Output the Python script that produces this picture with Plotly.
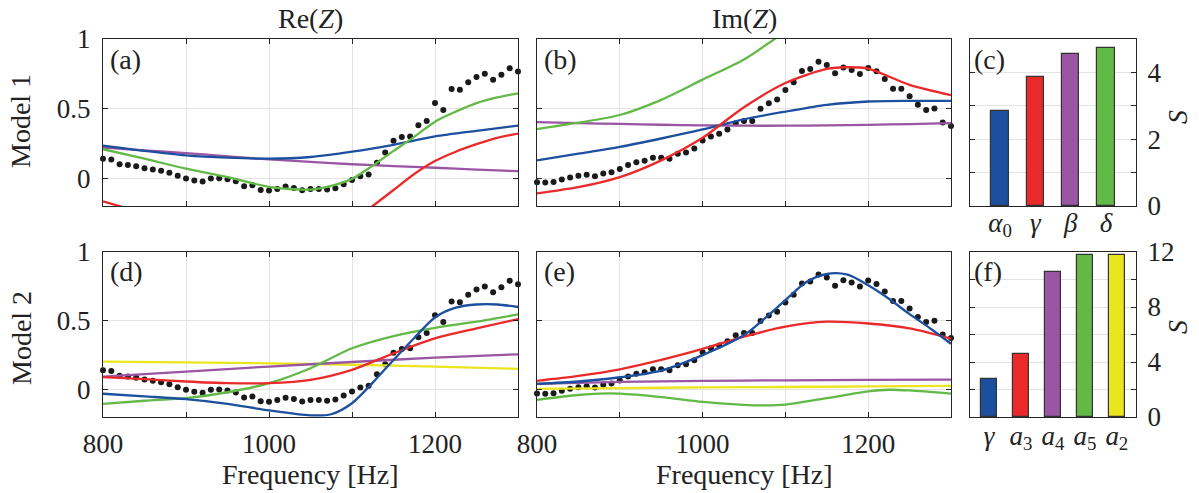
import plotly.graph_objects as go

# ---------------- data ----------------
freq_meas = [800 + 10 * i for i in range(51)]
re_meas = [0.14, 0.135, 0.10, 0.094, 0.085, 0.072, 0.063, 0.053, 0.039, 0.017,
           -0.002, -0.017, -0.024, -0.002, 0.0, -0.007, -0.022, -0.058, -0.051, -0.085,
           -0.089, -0.077, -0.06, -0.07, -0.087, -0.077, -0.077, -0.082, -0.072, -0.043,
           -0.014, 0.014, 0.027, 0.111, 0.184, 0.268, 0.295, 0.30, 0.38, 0.41,
           0.54, 0.49, 0.64, 0.635, 0.69, 0.727, 0.75, 0.708, 0.744, 0.79, 0.766]
im_meas = [-0.029, -0.031, -0.027, -0.010, 0.005, 0.017, 0.024, 0.014, 0.034, 0.043,
           0.065, 0.094, 0.114, 0.126, 0.147, 0.147, 0.14, 0.176, 0.184, 0.213,
           0.27, 0.30, 0.32, 0.35, 0.394, 0.41, 0.41, 0.498, 0.539, 0.565,
           0.633, 0.69, 0.77, 0.785, 0.836, 0.814, 0.754, 0.795, 0.778, 0.749,
           0.792, 0.768, 0.713, 0.643, 0.643, 0.589, 0.527, 0.49, 0.50, 0.40, 0.375]

f11 = [800, 850, 900, 950, 1000, 1050, 1100, 1150, 1200, 1250, 1300]
f6 = [800, 900, 1000, 1100, 1200, 1300]

# Model 1, Re(Z)
a_blue = [0.234, 0.196, 0.164, 0.147, 0.140, 0.152, 0.19, 0.24, 0.30, 0.34, 0.377]
a_purple = [0.22, 0.20, 0.18, 0.157, 0.135, 0.117, 0.10, 0.087, 0.075, 0.062, 0.05]
f_a_green = [800, 850, 900, 950, 1000, 1050, 1075, 1100, 1125, 1150, 1175, 1200, 1225, 1250, 1275, 1300]
a_green = [0.208, 0.14, 0.068, 0.007, -0.062, -0.082, -0.055, -0.005, 0.09, 0.196, 0.297, 0.406, 0.478, 0.539, 0.58, 0.61]
f_a_red = [800, 825, 850, 1100, 1125, 1150, 1175, 1200, 1225, 1250, 1275, 1300]
a_red = [-0.167, -0.21, None, -0.315, -0.2, -0.085, 0.03, 0.123, 0.19, 0.244, 0.29, 0.32]

# Model 1, Im(Z)
f_b_green = [800, 850, 900, 950, 1000, 1050, 1087, 1100]
b_green = [0.353, 0.399, 0.454, 0.563, 0.708, 0.853, 1.0, 1.05]
f_b_red = [800, 850, 900, 950, 1000, 1025, 1050, 1100, 1150, 1175, 1200, 1250, 1300]
b_red = [-0.109, -0.065, 0.007, 0.128, 0.29, 0.40, 0.51, 0.684, 0.785, 0.797, 0.787, 0.67, 0.596]
b_blue = [0.128, 0.176, 0.225, 0.285, 0.35, 0.423, 0.478, 0.527, 0.551, 0.556, 0.556]
b_purple = [0.403, 0.395, 0.39, 0.384, 0.38, 0.377, 0.377, 0.379, 0.383, 0.389, 0.395]

# Model 2, Re(Z)
d_yellow = [0.203, 0.197, 0.19, 0.18, 0.167, 0.15]
d_purple = [0.094, 0.13, 0.167, 0.2, 0.232, 0.256]
d_red = [0.09, 0.075, 0.058, 0.046, 0.046, 0.07, 0.143, 0.263, 0.372, 0.444, 0.512]
d_green = [-0.104, -0.082, -0.063, -0.02, 0.046, 0.155, 0.30, 0.389, 0.449, 0.493, 0.546]
f_d_blue = [800, 850, 900, 950, 1000, 1050, 1075, 1100, 1125, 1150, 1175, 1200, 1225, 1250, 1275, 1300]
d_blue = [-0.031, -0.05, -0.07, -0.104, -0.152, -0.188, -0.18, -0.10, 0.05, 0.215, 0.375, 0.524, 0.595, 0.618, 0.618, 0.60]

# Model 2, Im(Z)
f_e_blue = [800, 850, 900, 950, 1000, 1050, 1075, 1100, 1125, 1150, 1175, 1200, 1225, 1250, 1275, 1300]
e_blue = [0.041, 0.058, 0.089, 0.138, 0.25, 0.396, 0.517, 0.65, 0.78, 0.84, 0.835, 0.758, 0.66, 0.548, 0.444, 0.333]
e_red = [0.063, 0.099, 0.147, 0.215, 0.295, 0.384, 0.457, 0.493, 0.48, 0.444, 0.37]
e_purple = [0.041, 0.055, 0.062, 0.067, 0.07, 0.072]
e_yellow = [0.005, 0.01, 0.015, 0.018, 0.022, 0.027]
f_e_green = [800, 850, 875, 900, 950, 1000, 1050, 1075, 1100, 1150, 1200, 1225, 1250, 1300]
e_green = [-0.075, -0.04, -0.03, -0.03, -0.055, -0.09, -0.112, -0.116, -0.11, -0.063, -0.014, -0.002, -0.007, -0.03]

# Sensitivities
c_labels = ["<i>α</i><sub>0</sub>", "<i>γ</i>", "<i>β</i>", "<i>δ</i>"]
c_values = [2.84, 3.86, 4.56, 4.73]
f_labels = ["<i>γ</i>", "<i>a</i><sub>3</sub>", "<i>a</i><sub>4</sub>", "<i>a</i><sub>5</sub>", "<i>a</i><sub>2</sub>"]
f_values = [2.78, 4.59, 10.58, 11.81, 11.81]

# ---------------- style ----------------
BLUE = "#1d4f9f"
RED = "#ea2a2a"
PURPLE = "#9a55a3"
GREEN = "#62b946"
YELLOW = "#ebe51e"
FONT = "Liberation Serif"
FS = 27      # tick labels
FL = 28      # titles / labels
W, H = 1199, 493
LW = 2.3
TXT = "#222222"

def dx(x0, x1):
    return [x0 / W, x1 / W]

def dy(top, bottom):
    return [1 - bottom / H, 1 - top / H]

fig = go.Figure()

def line(x, y, color, ax):
    fig.add_trace(go.Scatter(x=x, y=y, mode="lines", line=dict(color=color, width=LW, shape="spline", smoothing=0.8),
                             xaxis="x" + ax, yaxis="y" + ax, showlegend=False, hoverinfo="skip", connectgaps=False))

def dots(x, y, ax):
    fig.add_trace(go.Scatter(x=x, y=y, mode="markers", marker=dict(color="#1a1a1a", size=6),
                             xaxis="x" + ax, yaxis="y" + ax, showlegend=False, cliponaxis=False))

# (a)
dots(freq_meas, re_meas, "")
line(f11, a_purple, PURPLE, "")
line(f11, a_blue, BLUE, "")
line(f_a_green, a_green, GREEN, "")
line(f_a_red, a_red, RED, "")
# (b)
dots(freq_meas, im_meas, "2")
line(f11, b_purple, PURPLE, "2")
line(f11, b_blue, BLUE, "2")
line(f_b_green, b_green, GREEN, "2")
line(f_b_red, b_red, RED, "2")
# (d)
dots(freq_meas, re_meas, "4")
line(f6, d_yellow, YELLOW, "4")
line(f6, d_purple, PURPLE, "4")
line(f11, d_green, GREEN, "4")
line(f11, d_red, RED, "4")
line(f_d_blue, d_blue, BLUE, "4")
# (e)
dots(freq_meas, im_meas, "5")
line(f6, e_yellow, YELLOW, "5")
line(f6, e_purple, PURPLE, "5")
line(f_e_green, e_green, GREEN, "5")
line(f11, e_red, RED, "5")
line(f_e_blue, e_blue, BLUE, "5")

# bars
fig.add_trace(go.Bar(x=list(range(len(c_values))), y=c_values, width=0.5,
                     marker=dict(color=[BLUE, RED, PURPLE, GREEN], line=dict(color="#333333", width=1.2)),
                     xaxis="x3", yaxis="y3", showlegend=False))
fig.add_trace(go.Bar(x=list(range(len(f_values))), y=f_values, width=0.49,
                     marker=dict(color=[BLUE, RED, PURPLE, GREEN, YELLOW], line=dict(color="#333333", width=1.2)),
                     xaxis="x6", yaxis="y6", showlegend=False))

AXC = "#262626"
GRID = "#e3e3e3"
common = dict(showline=True, linecolor=AXC, linewidth=1.2, mirror="ticks", ticks="inside", ticklen=5,
              tickcolor=AXC, gridcolor=GRID, gridwidth=1, zeroline=False, automargin=False,
              tickfont=dict(family=FONT, size=FS, color=TXT))

fx_vals = [800, 900, 1000, 1100, 1200, 1300]
fx_text_bottom = ["800", "", "1000", "", "1200", ""]
fx_text_top = [""] * 6

def fx_axis(dom, anchor, bottom):
    d = dict(common)
    d.update(domain=dom, anchor=anchor, range=[800, 1300], tickvals=fx_vals,
             ticktext=fx_text_bottom if bottom else fx_text_top, ticklabelstandoff=2)
    return d

def fy_axis(dom, anchor, labels):
    d = dict(common)
    d.update(domain=dom, anchor=anchor, range=[-0.2, 1], tickvals=[0, 0.5, 1],
             ticktext=["0", "0.5", "1"] if labels else ["", "", ""], ticklabelstandoff=6)
    return d

XA = dx(103, 518)
XB = dx(537, 951)
XC = dx(970, 1136)
Y1 = dy(39, 206)
Y2 = dy(252, 417)

bar_x_c = dict(common)
bar_x_c.update(domain=XC, anchor="y3", range=[-0.85, 3.85], tickvals=list(range(4)), ticktext=c_labels,
               showgrid=False, ticks="", ticklabelstandoff=-8)
bar_y_c = dict(common)
bar_y_c.update(domain=Y1, anchor="x3", side="right", range=[0, 5], tickvals=[0, 1, 2, 3, 4, 5],
               ticktext=["0", "", "2", "", "4", ""], ticklabelstandoff=5)
bar_x_f = dict(common)
bar_x_f.update(domain=XC, anchor="y6", range=[-0.6, 4.6], tickvals=list(range(5)), ticktext=f_labels,
               showgrid=False, ticks="", ticklabelstandoff=-6)
bar_y_f = dict(common)
bar_y_f.update(domain=Y2, anchor="x6", side="right", range=[0, 12], tickvals=[0, 2, 4, 6, 8, 10, 12],
               ticktext=["0", "", "4", "", "8", "", "12"], ticklabelstandoff=5)

fig.update_layout(
    width=W, height=H, margin=dict(l=0, r=0, t=0, b=0, pad=0, autoexpand=False),
    paper_bgcolor="white", plot_bgcolor="white",
    font=dict(family=FONT, size=FS, color=TXT),
    xaxis=fx_axis(XA, "y", False), yaxis=fy_axis(Y1, "x", True),
    xaxis2=fx_axis(XB, "y2", False), yaxis2=fy_axis(Y1, "x2", False),
    xaxis3=bar_x_c, yaxis3=bar_y_c,
    xaxis4=fx_axis(XA, "y4", True), yaxis4=fy_axis(Y2, "x4", True),
    xaxis5=fx_axis(XB, "y5", True), yaxis5=fy_axis(Y2, "x5", False),
    xaxis6=bar_x_f, yaxis6=bar_y_f,
    bargap=0,
)

ann = []
def txt(text, px, py, angle=0, size=FL):
    ann.append(dict(text=text, x=px / W, y=1 - py / H, xref="paper", yref="paper", showarrow=False,
                    textangle=angle, font=dict(family=FONT, size=size, color=TXT),
                    xanchor="center", yanchor="middle"))

txt("Re(<i>Z</i>)", 310, 19)
txt("Im(<i>Z</i>)", 744, 19)
txt("Model 1", 21, 121, -90)
txt("Model 2", 21, 338, -90)
txt("Frequency [Hz]", 310, 474)
txt("Frequency [Hz]", 744, 474)
txt("<i>S</i>", 1177, 117, -90)
txt("<i>S</i>", 1177, 327, -90)

for lab, xr, yr in [("(a)", "x", "y"), ("(b)", "x2", "y2"), ("(c)", "x3", "y3"),
                    ("(d)", "x4", "y4"), ("(e)", "x5", "y5"), ("(f)", "x6", "y6")]:
    ann.append(dict(text=lab, x=0.012, y=0.985, xref=xr + " domain", yref=yr + " domain", showarrow=False,
                    xanchor="left", yanchor="top", font=dict(family=FONT, size=FL, color=TXT)))

fig.update_layout(annotations=ann)
fig.write_html("out.html", config={"displayModeBar": False},
               post_script="document.body.style.margin='0';document.body.style.overflow='hidden';")
